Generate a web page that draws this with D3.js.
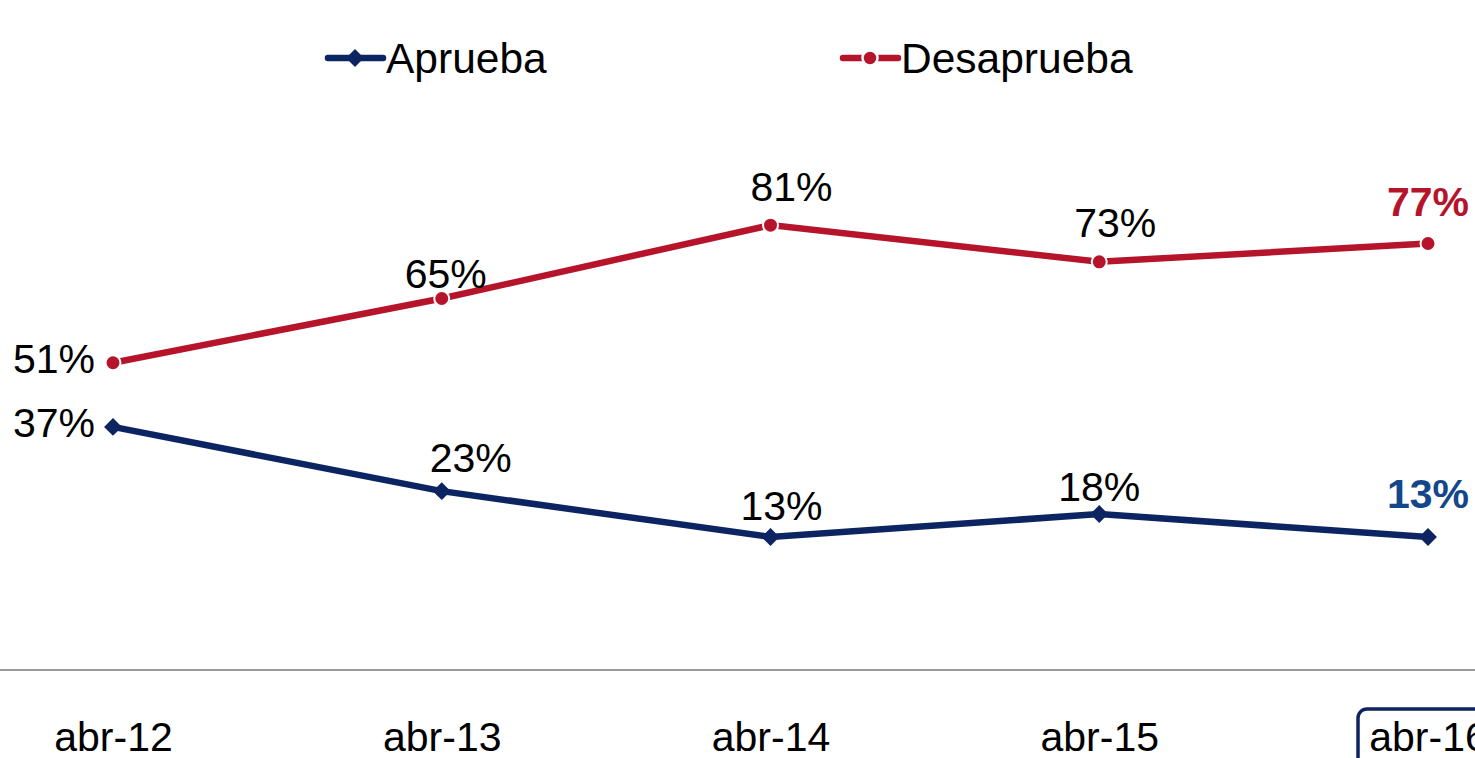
<!DOCTYPE html>
<html>
<head>
<meta charset="utf-8">
<script src="https://cdn.jsdelivr.net/npm/d3@7/dist/d3.min.js"></script>
<style>
  html, body { margin: 0; padding: 0; background: #fff; }
  svg { display: block; font-family: "Liberation Sans", Arial, sans-serif; }
</style>
</head>
<body>
<svg id="chart" width="1475" height="758"></svg>
<script>
// Survey approval series, April of each year
const categories = ["abr-12", "abr-13", "abr-14", "abr-15", "abr-16"];
const aprueba = [37, 23, 13, 18, 13];
const desaprueba = [51, 65, 81, 73, 77];
const seriesNames = ["Aprueba", "Desaprueba"];

const W = 1475, H = 758;
const BLUE = "#0c2461", RED = "#b5142b", BLUE_LABEL = "#13468a";
const svg = d3.select("#chart");

const x = d3.scalePoint().domain(categories).range([113, 1428]);
const y = d3.scaleLinear().domain([-16, 100]).range([670, 138]);

// Category axis
const axisY = 670;
svg.append("line")
  .attr("x1", 0).attr("x2", W)
  .attr("y1", axisY).attr("y2", axisY)
  .attr("stroke", "#999").attr("stroke-width", 2);

const axis = svg.append("g")
  .attr("transform", `translate(0,${axisY})`)
  .call(d3.axisBottom(x).tickSize(0).tickPadding(0));
axis.select(".domain").remove();
axis.selectAll("text")
  .attr("y", 81).attr("dy", 0)
  .attr("font-size", 41)
  .attr("font-family", "Liberation Sans, Arial, sans-serif")
  .attr("fill", "#000");

// Highlight frame around the latest period
const lastX = x(categories[categories.length - 1]);
svg.append("rect")
  .attr("x", lastX - 70).attr("y", 709)
  .attr("width", 140).attr("height", 80)
  .attr("rx", 9).attr("ry", 9)
  .attr("fill", "none").attr("stroke", BLUE).attr("stroke-width", 3.5);

const line = d3.line().x((d, i) => x(categories[i])).y(d => y(d));

// Lines
svg.append("path").datum(desaprueba)
  .attr("d", line).attr("fill", "none")
  .attr("stroke", RED).attr("stroke-width", 6.5);
svg.append("path").datum(aprueba)
  .attr("d", line).attr("fill", "none")
  .attr("stroke", BLUE).attr("stroke-width", 6.5);

// Markers
svg.append("g").selectAll("circle").data(desaprueba).join("circle")
  .attr("cx", (d, i) => x(categories[i])).attr("cy", d => y(d))
  .attr("r", 7.5).attr("fill", RED).attr("stroke", "#fff").attr("stroke-width", 2);

const diamond = d3.symbol().type(d3.symbolSquare).size(160);
svg.append("g").selectAll("path").data(aprueba).join("path")
  .attr("d", diamond)
  .attr("transform", (d, i) => `translate(${x(categories[i])},${y(d)}) rotate(45)`)
  .attr("fill", BLUE);

// Data labels
const last = categories.length - 1;
const redDx = [0, 4, 21, 16, 0];
const redDy = [0, -11, -24, -25, -27];
const blueDx = [0, 29, 11, 0, 0];
const blueDy = [0, -19, -17, -13, -29];

function labels(values, dxs, dys, color) {
  svg.append("g").selectAll("text").data(values).join("text")
    .attr("x", (d, i) => i === 0 ? x(categories[i]) - 18 : x(categories[i]) + dxs[i])
    .attr("y", (d, i) => i === 0 ? y(d) + 10 : y(d) + dys[i])
    .attr("text-anchor", (d, i) => i === 0 ? "end" : "middle")
    .attr("font-size", 41)
    .attr("font-weight", (d, i) => i === last ? "bold" : "normal")
    .attr("fill", (d, i) => i === last ? color : "#000")
    .text(d => d + "%");
}
labels(desaprueba, redDx, redDy, RED);
labels(aprueba, blueDx, blueDy, BLUE_LABEL);

// Legend
const legend = svg.append("g");
const legendItems = [
  { name: seriesNames[0], color: BLUE, x0: 328, marker: "diamond" },
  { name: seriesNames[1], color: RED, x0: 843, marker: "circle" }
];
legendItems.forEach(it => {
  const ly = 58;
  legend.append("line")
    .attr("x1", it.x0).attr("x2", it.x0 + 55)
    .attr("y1", ly).attr("y2", ly)
    .attr("stroke", it.color).attr("stroke-width", 6.5).attr("stroke-linecap", "round");
  if (it.marker === "diamond") {
    legend.append("path").attr("d", diamond)
      .attr("transform", `translate(${it.x0 + 27},${ly}) rotate(45)`)
      .attr("fill", it.color);
  } else {
    legend.append("circle").attr("cx", it.x0 + 27).attr("cy", ly).attr("r", 7.5)
      .attr("fill", it.color).attr("stroke", "#fff").attr("stroke-width", 2.5);
  }
  legend.append("text")
    .attr("x", it.x0 + 58).attr("y", 73)
    .attr("font-size", 42.5).attr("fill", "#000")
    .text(it.name);
});
</script>
</body>
</html>
